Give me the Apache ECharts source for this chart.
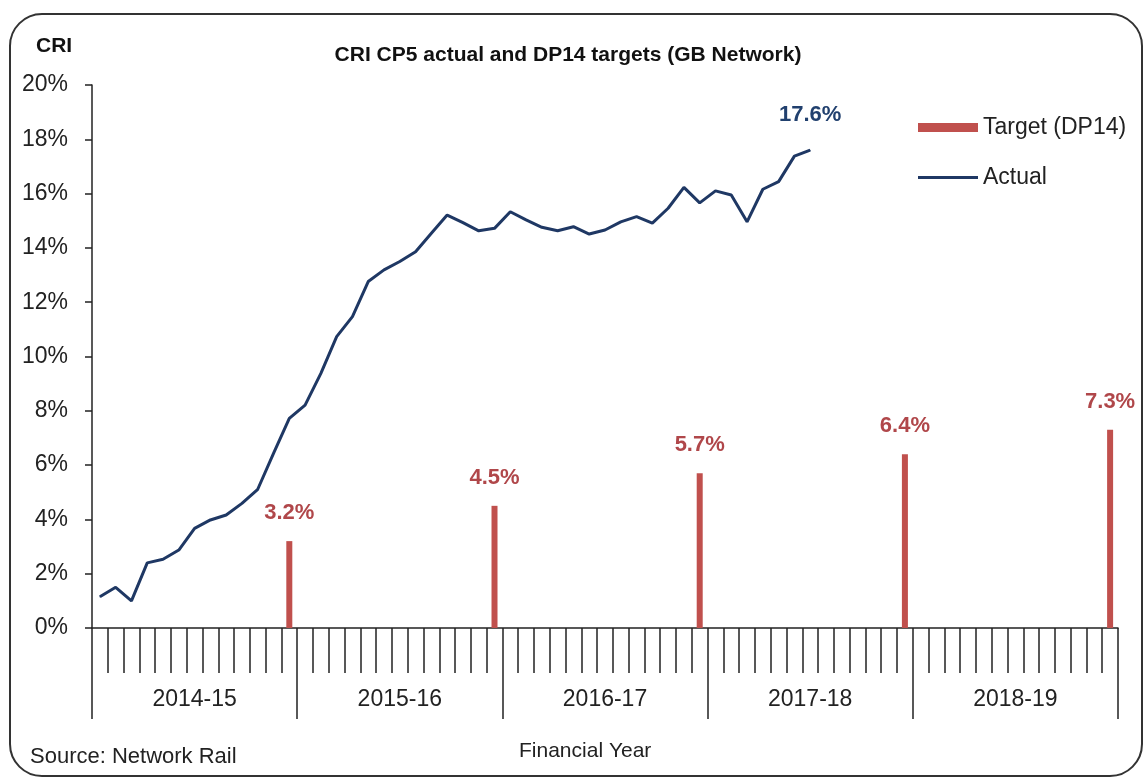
<!DOCTYPE html>
<html>
<head>
<meta charset="utf-8">
<script src="https://cdn.jsdelivr.net/npm/echarts@6/dist/echarts.min.js"></script>
<style>
  html, body { margin: 0; padding: 0; background: #fff; }
  #chart { width: 1146px; height: 778px; }
</style>
</head>
<body>
<div id="chart"></div>
<script>
// financial years, each split into 13 rail periods
const years = ['2014-15', '2015-16', '2016-17', '2017-18', '2018-19'];
const periodsPerYear = 13;

// CRI actual, one value per period from P1 2014-15
const actual = [
  1.15, 1.5, 1.0, 2.4, 2.53, 2.87, 3.67, 3.98, 4.16, 4.59, 5.11, 6.43, 7.72,
  8.21, 9.38, 10.73, 11.47, 12.76, 13.19, 13.5, 13.86, 14.54, 15.21, 14.93, 14.63, 14.72,
  15.33, 15.03, 14.76, 14.63, 14.78, 14.51, 14.66, 14.96, 15.15, 14.91, 15.46, 16.23, 15.66,
  16.1, 15.95, 14.96, 16.16, 16.44, 17.38, 17.6
];

// DP14 targets, at the end of each year
const targets = [3.2, 4.5, 5.7, 6.4, 7.3];

const yTicks = [0, 2, 4, 6, 8, 10, 12, 14, 16, 18, 20];

const periods = [];
years.forEach(y => {
  for (let p = 1; p <= periodsPerYear; p++) periods.push(y + ' P' + p);
});

const targetData = periods.map(() => null);
targets.forEach((t, i) => { targetData[(i + 1) * periodsPerYear - 1] = t; });

// only the latest point gets its value printed
const actualData = actual.map((v, i) => i === actual.length - 1
  ? { value: v, label: { show: true } }
  : v);

const font = "'Liberation Sans', Arial, sans-serif";
const red = '#C0504D';
const navy = '#1F3864';

const chart = echarts.init(document.getElementById('chart'));

chart.setOption({
  animation: false,
  backgroundColor: '#fff',
  textStyle: { fontFamily: font },
  grid: { left: 92, right: 28, top: 85, bottom: 150 },
  legend: {
    orient: 'vertical',
    left: 913,
    top: 111,
    itemWidth: 60,
    itemHeight: 9,
    itemGap: 27,
    selectedMode: false,
    textStyle: { fontSize: 23, color: '#222', fontFamily: font },
    data: [
      { name: 'Target (DP14)', icon: 'rect' },
      { name: 'Actual', icon: 'path://M0,0H60V3H0Z' }
    ]
  },
  xAxis: [
    {
      type: 'category',
      data: periods,
      boundaryGap: true,
      position: 'bottom',
      axisLine: { lineStyle: { color: '#222', width: 1.5 } },
      axisTick: { show: true, interval: 0, length: 45, lineStyle: { color: '#222', width: 1.5 } },
      axisLabel: { show: false, interval: 0 }
    },
    {
      type: 'category',
      data: years,
      boundaryGap: true,
      position: 'bottom',
      axisLine: { show: false },
      axisTick: { show: true, interval: 0, length: 91, lineStyle: { color: '#222', width: 1.5 } },
      axisLabel: { interval: 0, margin: 60, fontSize: 23, color: '#222', fontFamily: font }
    }
  ],
  yAxis: {
    type: 'value',
    min: yTicks[0],
    max: yTicks[yTicks.length - 1],
    interval: 2,
    axisLine: { show: true, lineStyle: { color: '#222', width: 1.5 } },
    axisTick: { show: true, length: 7, lineStyle: { color: '#222', width: 1.5 } },
    splitLine: { show: false },
    axisLabel: { formatter: '{value}%', fontSize: 23, color: '#222', margin: 24, fontFamily: font }
  },
  series: [
    {
      name: 'Target (DP14)',
      type: 'bar',
      xAxisIndex: 0,
      data: targetData,
      barWidth: 6,
      itemStyle: { color: red },
      label: {
        show: true,
        position: 'top',
        distance: 17,
        formatter: p => p.value + '%',
        fontSize: 22,
        fontWeight: 'bold',
        color: '#B0474A',
        fontFamily: font
      }
    },
    {
      name: 'Actual',
      type: 'line',
      xAxisIndex: 0,
      data: actualData,
      symbol: 'circle',
      symbolSize: 1,
      showSymbol: true,
      lineStyle: { color: navy, width: 3 },
      itemStyle: { color: navy },
      label: {
        show: false,
        position: 'top',
        distance: 24,
        formatter: p => p.value + '%',
        fontSize: 22,
        fontWeight: 'bold',
        color: '#21406E',
        fontFamily: font
      }
    }
  ],
  graphic: [
    {
      type: 'rect',
      shape: { x: 10, y: 14, width: 1132, height: 762, r: 32 },
      style: { fill: 'none', stroke: '#333', lineWidth: 2 },
      silent: true
    },
    {
      type: 'text',
      x: 568,
      y: 45,
      style: {
        text: 'CRI CP5 actual and DP14 targets (GB Network)',
        font: "bold 21px 'Liberation Sans Narrow', 'Liberation Sans', Arial, sans-serif",
        fill: '#111',
        textAlign: 'center'
      }
    },
    {
      type: 'text',
      left: 36,
      top: 36,
      style: { text: 'CRI', font: "bold 21px 'Liberation Sans', Arial, sans-serif", fill: '#111' }
    },
    {
      type: 'text',
      left: 30,
      top: 746,
      style: { text: 'Source: Network Rail', font: "22px 'Liberation Sans', Arial, sans-serif", fill: '#222' }
    },
    {
      type: 'text',
      left: 519,
      top: 741,
      style: { text: 'Financial Year', font: "21px 'Liberation Sans', Arial, sans-serif", fill: '#222' }
    }
  ]
});
</script>
</body>
</html>
